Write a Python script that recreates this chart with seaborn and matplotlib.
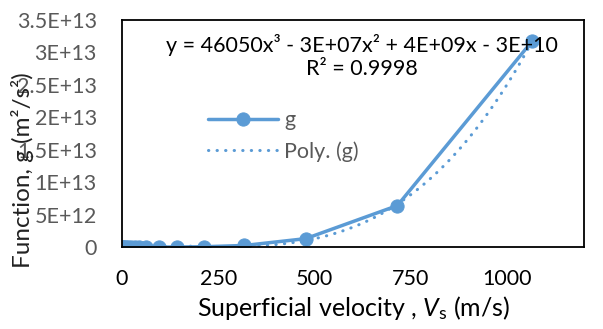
import numpy as np
import pandas as pd
import matplotlib
matplotlib.use("Agg")
import matplotlib.pyplot as plt
import seaborn as sns

# data
vs = [0.5, 2, 5, 10, 16, 24, 33, 45, 64, 96, 142, 212, 318, 477, 715, 1064]
g = [1.5, 4e2, 1.5e4, 2.5e5, 1.6e6, 8e6, 3e7, 1e8, 4e8, 2e9, 1e10, 5e10,
     2.5e11, 1.3e12, 6.4e12, 3.17e13]
xticks = [0, 250, 500, 750, 1000]
yticks = [0, 5e12, 1e13, 1.5e13, 2e13, 2.5e13, 3e13, 3.5e13]
ytick_labels = ["0", "5E+12", "1E+13", "1.5E+13", "2E+13", "2.5E+13", "3E+13", "3.5E+13"]
eq_text = "y = 46050x³ - 3E+07x² + 4E+09x - 3E+10\nR² = 0.9998"

df = pd.DataFrame({"vs": vs, "g": g})

sns.set_style("white")
plt.rcParams["font.family"] = ["Lato", "DejaVu Sans"]
plt.rcParams["mathtext.fontset"] = "custom"
plt.rcParams["mathtext.rm"] = "Lato"
plt.rcParams["mathtext.it"] = "Lato:italic"

blue = "#5B9BD5"
grey = "#595959"

fig = plt.figure(figsize=(6.03, 3.29), dpi=100)
ax = fig.add_axes([0.202, 0.249, 0.767, 0.690])

#polynomial trend line (order 3) behind the data line
sns.regplot(data=df, x="vs", y="g", order=3, ci=None, scatter=False, ax=ax,
            color=blue, label="Poly. (g)",
            line_kws=dict(ls=(0, (0.1, 2.7)), lw=2.2, dash_capstyle="round"))
sns.lineplot(data=df, x="vs", y="g", ax=ax, color=blue, lw=2.5, marker="o",
             markersize=9.5, markeredgecolor=blue, label="g")

ax.set_xlim(0, 1200)
ax.set_ylim(0, 3.5e13)
ax.set_xticks(xticks)
ax.set_xticklabels([str(t) for t in xticks], fontsize=15.5, color="black")
ax.set_yticks(yticks)
ax.set_yticklabels(ytick_labels, fontsize=15.5, color=grey)
ax.tick_params(axis="both", direction="out", length=5, width=1.3, color="black")
ax.tick_params(axis="x", pad=11)
ax.tick_params(axis="y", pad=13)
for s in ax.spines.values():
    s.set_visible(True)
    s.set_color("black")
    s.set_linewidth(1.3)

ax.set_xlabel(r"Superficial velocity , $V_\mathrm{s}$ (m/s)", fontsize=18, color="black")
ax.set_ylabel("Function, g (m²/s²)", fontsize=17.5, color="#222222")
ax.xaxis.set_label_coords(0.50, -0.205)
ax.yaxis.set_label_coords(-0.19, 0.34)

ax.text(0.52, 0.839, eq_text, transform=ax.transAxes, ha="center", va="center",
        fontsize=15.5, color="black", linespacing=1.2)

handles, labels = ax.get_legend_handles_labels()
order = [labels.index("g"), labels.index("Poly. (g)")]
ax.legend([handles[i] for i in order], [labels[i] for i in order],
          loc="center left", bbox_to_anchor=(0.186, 0.49), frameon=False,
          fontsize=15.5, labelcolor=grey, handlelength=3.25, handletextpad=0.3,
          borderpad=0, borderaxespad=0, labelspacing=0.5)

fig.savefig("out.png", dpi=100)
